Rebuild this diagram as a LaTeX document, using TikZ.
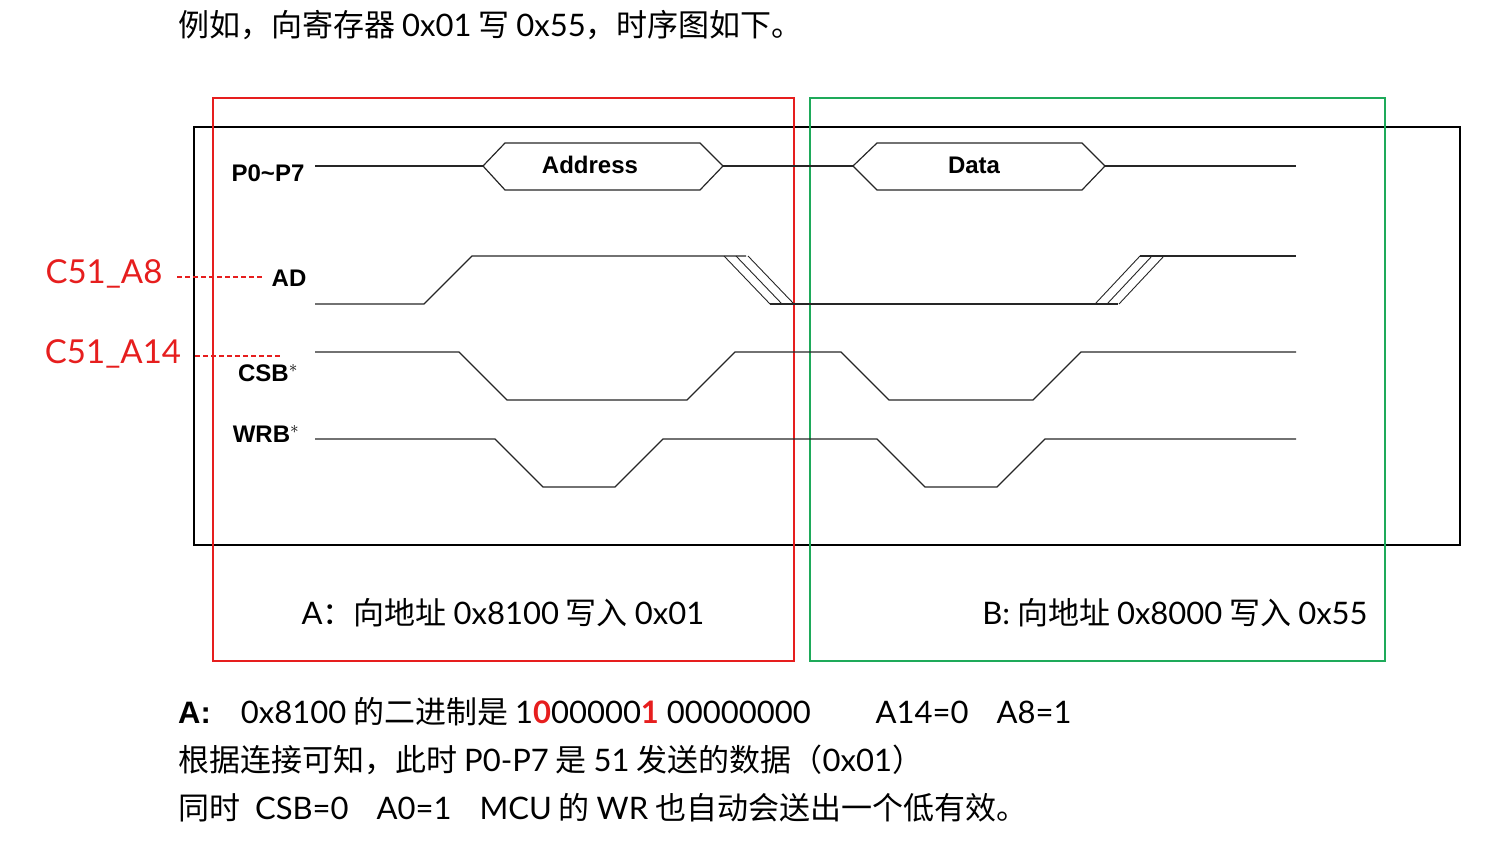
\documentclass[tikz,border=0pt]{standalone}
\usepackage{fontspec}
\setmainfont{Noto Sans CJK SC}
\newfontfamily\lab{Liberation Sans}
\newfontfamily\gth{Lato}
\definecolor{rd}{RGB}{230,30,30}
\definecolor{gr}{RGB}{30,170,90}
\begin{document}
\begin{tikzpicture}[x=1pt,y=-1pt,
  sig/.style={line width=1.2pt,black!85},
  lbl/.style={font=\lab\bfseries\fontsize{24}{24}\selectfont,inner sep=0},
  red lbl/.style={font=\gth\fontsize{33}{33}\selectfont,text=rd,inner sep=0},
  txt/.style={font=\fontsize{31}{31}\selectfont,inner sep=0,anchor=west}]
\useasboundingbox (0,0) rectangle (1501,842);
\node[txt] (h) at (178,25) {例如，向寄存器 {\gth 0x01} 写 {\gth 0x55}，时序图如下。};
\draw[line width=2pt] (194,127) rectangle (1460,545);
\draw[rd,line width=1.5pt] (213,98) rectangle (794,661);
\draw[gr,line width=1.5pt] (810,98) rectangle (1385,661);
% P0~P7
\draw[sig] (315,166) -- (483,166) (723,166) -- (853,166) (1105,166) -- (1296,166);
\draw[sig] (483,166) -- (505,143) -- (700,143) -- (723,166) -- (700,190) -- (505,190) -- cycle;
\draw[sig] (853,166) -- (877,143) -- (1082,143) -- (1105,166) -- (1082,190) -- (877,190) -- cycle;
\node[lbl] (adr) at (590,165) {Address};
\node[lbl] (dat) at (974,165) {Data};
% AD
\draw[sig] (315,304) -- (424,304) -- (472,256) -- (746,256);
\foreach \d in {0,12,24}{\draw[sig,line width=0.9pt] (724+\d,256) -- (770+\d,304);
  \draw[sig,line width=0.9pt] (1095+\d,304) -- (1140+\d,256);}
\draw[sig] (770,304) -- (1118,304);
\draw[sig] (1140,256) -- (1296,256);
% CSB
\draw[sig] (315,352) -- (459,352) -- (507,400) -- (687,400) -- (735,352) -- (841,352) -- (889,400) -- (1033,400) -- (1081,352) -- (1296,352);
% WRB
\draw[sig] (315,439) -- (495,439) -- (543,487) -- (615,487) -- (663,439) -- (877,439) -- (925,487) -- (997,487) -- (1045,439) -- (1296,439);
\node[lbl] (p) at (268,173) {P0\textasciitilde P7};
\node[lbl] (ad) at (289,278) {AD};
\node[lbl] (csb) at (268,373) {CSB$^{*}$};
\node[lbl] (wrb) at (266,434) {WRB$^{*}$};
\node[red lbl] (a8) at (104,274) {C51\_A8};
\node[red lbl] (a14) at (113,354) {C51\_A14};
\draw[rd,dash pattern=on 5pt off 3pt,line width=1.3pt] (177,277) -- (262,277);
\draw[rd,dash pattern=on 5pt off 3pt,line width=1.3pt] (195,356) -- (280,356);
\node[txt,anchor=center] (ta) at (503,613) {{\gth A}：向地址 {\gth 0x8100} 写入 {\gth 0x01}};
\node[txt,anchor=center] (tb) at (1175,613) {{\gth B:} 向地址 {\gth 0x8000} 写入 {\gth 0x55}};
\node[txt] (l1) at (178,712) {{\lab\bfseries A:}\hspace{30pt}{\gth 0x8100} 的二进制是 {\gth 1\textcolor{rd}{\bfseries 0}00000\textcolor{rd}{\bfseries 1} 00000000\hspace{65pt}A14=0\hspace{28pt}A8=1}};
\node[txt] (l2) at (178,760) {根据连接可知，此时 {\gth P0-P7} 是 {\gth 51} 发送的数据（{\gth 0x01}）};
\node[txt] (l3) at (178,808) {同时 {\gth \ CSB=0\hspace{28pt}A0=1\hspace{28pt}MCU} 的 {\gth WR} 也自动会送出一个低有效。};
\end{tikzpicture}
\end{document}
